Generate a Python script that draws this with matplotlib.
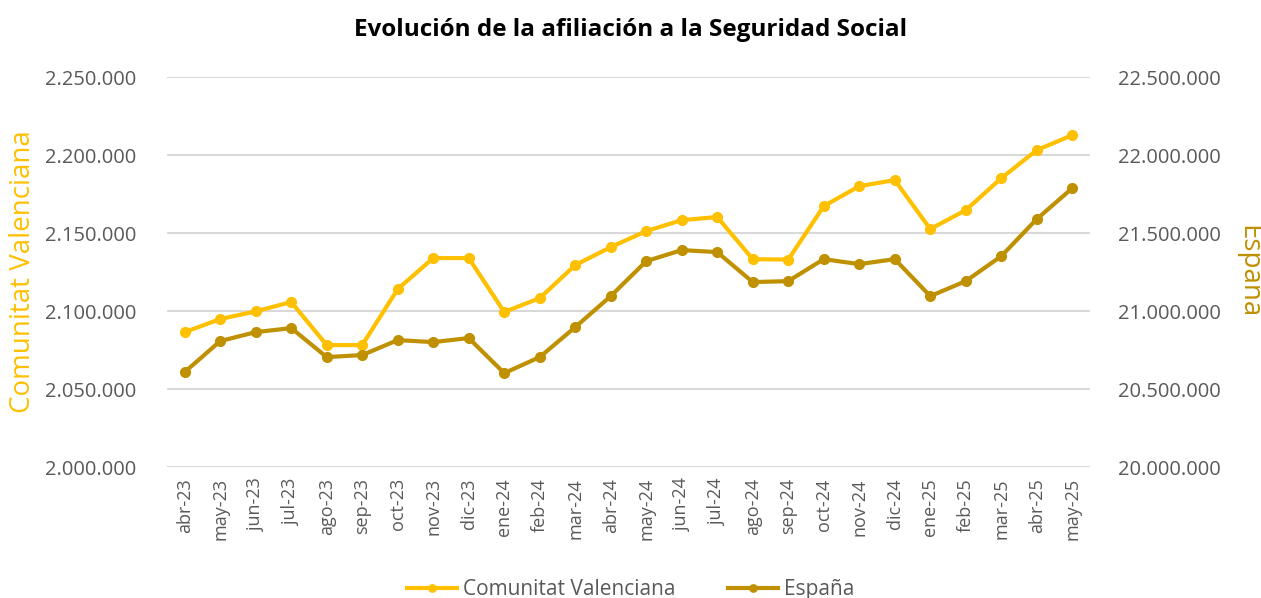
import matplotlib
matplotlib.use("Agg")
import matplotlib.pyplot as plt
from matplotlib.ticker import FuncFormatter
from matplotlib import font_manager

months = ["abr-23", "may-23", "jun-23", "jul-23", "ago-23", "sep-23", "oct-23",
          "nov-23", "dic-23", "ene-24", "feb-24", "mar-24", "abr-24", "may-24",
          "jun-24", "jul-24", "ago-24", "sep-24", "oct-24", "nov-24", "dic-24",
          "ene-25", "feb-25", "mar-25", "abr-25", "may-25"]

cv = [2086500, 2094900, 2099800, 2105800, 2078200, 2078200, 2114100,
      2134000, 2134000, 2099400, 2108300, 2129500, 2141000, 2151300,
      2158300, 2160300, 2133300, 2133000, 2167300, 2180100, 2184000,
      2152600, 2164700, 2185200, 2203200, 2212800]

es = [20609000, 20807700, 20865000, 20891000, 20705000, 20718000, 20814000,
      20801000, 20827000, 20602000, 20705000, 20897000, 21096000, 21320000,
      21391000, 21378000, 21186000, 21192000, 21333000, 21301000, 21333000,
      21096000, 21192000, 21352000, 21590000, 21788000]

c_cv = "#FFC000"
c_es = "#BF9000"
gray = "#595959"

avail = {f.name for f in font_manager.fontManager.ttflist}
base_font = "Open Sans" if "Open Sans" in avail else "DejaVu Sans"
plt.rcParams["font.family"] = [base_font, "DejaVu Sans"]

fig = plt.figure(figsize=(12.61, 5.98), dpi=100)
ax = fig.add_axes([0.1324, 0.219, 0.732, 0.652])
ax2 = ax.twinx()

x = list(range(len(months)))
l1, = ax.plot(x, cv, color=c_cv, lw=3, marker="o", ms=7, label="Comunitat Valenciana", zorder=3)
l2, = ax2.plot(x, es, color=c_es, lw=3, marker="o", ms=7, label="España", zorder=3)

ax.set_ylim(2000000, 2250000)
ax2.set_ylim(20000000, 22500000)
ax.set_yticks(range(2000000, 2250001, 50000))
ax2.set_yticks(range(20000000, 22500001, 500000))
fmt = FuncFormatter(lambda v, p: f"{int(v):,}".replace(",", "."))
ax.yaxis.set_major_formatter(fmt)
ax2.yaxis.set_major_formatter(fmt)

ax.set_xlim(-0.5, len(months) - 0.5)
ax.set_xticks(x)
ax.set_xticklabels(months, rotation=90, fontsize=13, color=gray)
ax.grid(axis="y", color="#D9D9D9", lw=1.5)
ax.set_axisbelow(True)
for a in (ax, ax2):
    for s in a.spines.values():
        s.set_visible(False)
    a.tick_params(length=0, colors=gray)
ax.tick_params(axis="y", labelsize=14.5, pad=22)
ax2.tick_params(axis="y", labelsize=14.5, pad=20)
ax.tick_params(axis="x", pad=8)

ax.set_ylabel("Comunitat Valenciana", color=c_cv, fontsize=20, labelpad=6)
ax2.set_ylabel("España", color=c_es, fontsize=20, rotation=270, labelpad=30)

fig.suptitle("Evolución de la afiliación a la Seguridad Social", x=0.5, y=0.97,
             fontsize=17.5, fontweight="bold", color="black")

fig.legend(handles=[l1, l2], loc="lower center", bbox_to_anchor=(0.5, -0.035), ncol=2,
           frameon=False, fontsize=15, labelcolor=gray, handlelength=2.4,
           handletextpad=0.3, columnspacing=2.5, markerscale=0.75)

fig.savefig("out.png", dpi=100)
